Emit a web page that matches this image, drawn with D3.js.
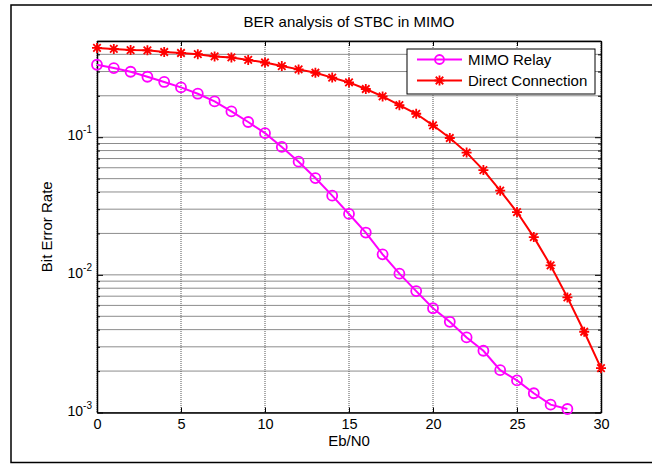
<!DOCTYPE html>
<html>
<head>
<meta charset="utf-8">
<script src="https://cdn.jsdelivr.net/npm/d3@7/dist/d3.min.js"></script>
<style>
  body { margin: 0; background: #fff; }
  svg text { font-family: "Liberation Sans", Arial, Helvetica, sans-serif; fill: #000; }
</style>
</head>
<body>
<div id="chart"></div>
<script>
// Eb/N0 values (dB)
const ebnoRelay = d3.range(0, 29);
const ebnoDirect = d3.range(0, 31);

// BER
const berRelay = [0.336, 0.318, 0.299, 0.275, 0.252, 0.230, 0.207, 0.182, 0.154, 0.129,
    0.107, 0.085, 0.0664, 0.0505, 0.0376, 0.0277, 0.0203, 0.0141, 0.0102, 0.00762,
    0.00572, 0.00456, 0.00351, 0.00281, 0.00203, 0.00171, 0.00138, 0.00114, 0.00106];
const berDirect = [0.445, 0.438, 0.430, 0.428, 0.416, 0.409, 0.401, 0.386, 0.380, 0.364,
    0.349, 0.329, 0.311, 0.294, 0.271, 0.250, 0.224, 0.198, 0.171, 0.148,
    0.122, 0.0987, 0.0773, 0.0577, 0.0409, 0.0286, 0.0188, 0.0117, 0.00686, 0.00386,
    0.00210];

const seriesNames = ["MIMO Relay", "Direct Connection"];
const xTicks = [0, 5, 10, 15, 20, 25, 30];
const yDecades = [-3, -2, -1];

const width = 652, height = 464;
const plot = {left: 97, right: 601, top: 41, bottom: 412.5};

const svg = d3.select("#chart").append("svg")
    .attr("width", width)
    .attr("height", height);

// outer figure frame
svg.append("rect")
    .attr("x", 11).attr("y", 5)
    .attr("width", 650).attr("height", 457.5)
    .attr("fill", "none").attr("stroke", "#000").attr("stroke-width", 1.5);

let x = d3.scaleLinear().domain([0, 30]).range([plot.left, plot.right]);
let y = d3.scaleLog().domain([1e-3, 0.5]).range([plot.bottom, plot.top]);

// major + minor y positions
let yMinor = [];
yDecades.forEach(function(e){
    for (let k = 1; k < 10; k++) {
        let v = k * Math.pow(10, e);
        if (v <= 0.5) yMinor.push(v);
    }
});

let grid = svg.append("g");
grid.selectAll("line.h")
    .data(yMinor)
    .enter().append("line")
    .attr("class", "h")
    .attr("x1", plot.left).attr("x2", plot.right)
    .attr("y1", d => y(d)).attr("y2", d => y(d))
    .attr("stroke", "#8c8c8c").attr("stroke-width", 1);
grid.selectAll("line.v")
    .data(xTicks)
    .enter().append("line")
    .attr("class", "v")
    .attr("x1", d => x(d)).attr("x2", d => x(d))
    .attr("y1", plot.top).attr("y2", plot.bottom)
    .attr("stroke", "#555").attr("stroke-width", 1)
    .attr("stroke-dasharray", "1,1");

// axes, ticks pointing inside
let bottomAxis = d3.axisBottom(x).tickValues(xTicks).tickSizeInner(-5).tickSizeOuter(0).tickPadding(6);
let topAxis = d3.axisTop(x).tickValues(xTicks).tickSizeInner(-5).tickSizeOuter(0).tickFormat("");
let leftAxis = d3.axisLeft(y).tickValues(yMinor).tickSizeOuter(0).tickFormat("");
let rightAxis = d3.axisRight(y).tickValues(yMinor).tickSizeOuter(0).tickFormat("");

function styleAxis(g) {
    g.select(".domain").attr("stroke", "#000").attr("stroke-width", 1.5);
    g.selectAll(".tick line").attr("stroke", "#000").attr("stroke-width", 1);
    g.selectAll(".tick text").style("font-size", "14.5px").attr("fill", "#000");
}

svg.append("g").attr("transform", `translate(0,${plot.bottom})`).call(bottomAxis).call(styleAxis);
svg.append("g").attr("transform", `translate(0,${plot.top})`).call(topAxis).call(styleAxis);
let gl = svg.append("g").attr("transform", `translate(${plot.left},0)`).call(leftAxis).call(styleAxis);
let gr = svg.append("g").attr("transform", `translate(${plot.right},0)`).call(rightAxis).call(styleAxis);

// major ticks longer than minor
gl.selectAll(".tick line").attr("x2", d => Math.abs(Math.log10(d) - Math.round(Math.log10(d))) < 1e-9 ? 6 : 3);
gr.selectAll(".tick line").attr("x2", d => Math.abs(Math.log10(d) - Math.round(Math.log10(d))) < 1e-9 ? -6 : -3);

// decade labels 10^e
let yLab = svg.append("g");
yDecades.forEach(function(e){
    let t = yLab.append("text")
        .attr("x", plot.left - 5)
        .attr("y", y(Math.pow(10, e)) + 3)
        .attr("text-anchor", "end")
        .style("font-size", "14px");
    t.append("tspan").text("10");
    t.append("tspan").attr("dy", -7).style("font-size", "10px").text(e);
});

// title and labels
svg.append("text")
    .attr("x", (plot.left + plot.right) / 2).attr("y", 27)
    .attr("text-anchor", "middle").style("font-size", "15px")
    .text("BER analysis of STBC in MIMO");
svg.append("text")
    .attr("x", (plot.left + plot.right) / 2).attr("y", 446)
    .attr("text-anchor", "middle").style("font-size", "15px")
    .text("Eb/N0");
svg.append("text")
    .attr("transform", `translate(52,${(plot.top + plot.bottom) / 2}) rotate(-90)`)
    .attr("text-anchor", "middle").style("font-size", "15px")
    .text("Bit Error Rate");

let line = d3.line().x(d => x(d[0])).y(d => y(d[1]));

let relayPts = ebnoRelay.map((v, i) => [v, berRelay[i]]);
let directPts = ebnoDirect.map((v, i) => [v, berDirect[i]]);

function drawStar(g, cx, cy, r) {
    let s = r * 0.75;
    g.append("path")
        .attr("d", `M${cx - r},${cy}L${cx + r},${cy}M${cx},${cy - r}L${cx},${cy + r}` +
            `M${cx - s},${cy - s}L${cx + s},${cy + s}M${cx - s},${cy + s}L${cx + s},${cy - s}`)
        .attr("stroke", "#ff0000").attr("stroke-width", 1.8).attr("fill", "none");
}

svg.append("path").datum(directPts)
    .attr("d", line).attr("fill", "none")
    .attr("stroke", "#ff0000").attr("stroke-width", 2);
let stars = svg.append("g");
directPts.forEach(p => drawStar(stars, x(p[0]), y(p[1]), 5));

svg.append("path").datum(relayPts)
    .attr("d", line).attr("fill", "none")
    .attr("stroke", "#ff00ff").attr("stroke-width", 2);
svg.append("g").selectAll("circle")
    .data(relayPts)
    .enter().append("circle")
    .attr("cx", d => x(d[0])).attr("cy", d => y(d[1]))
    .attr("r", 5)
    .attr("fill", "none").attr("stroke", "#ff00ff").attr("stroke-width", 1.8);

// legend
let leg = svg.append("g");
leg.append("rect")
    .attr("x", 407).attr("y", 49).attr("width", 188).attr("height", 45)
    .attr("fill", "#fff").attr("stroke", "#000").attr("stroke-width", 1);
let rowY = [59.5, 80.5];
let colors = ["#ff00ff", "#ff0000"];
seriesNames.forEach(function(name, i){
    leg.append("line")
        .attr("x1", 417).attr("x2", 462)
        .attr("y1", rowY[i]).attr("y2", rowY[i])
        .attr("stroke", colors[i]).attr("stroke-width", 2);
    if (i == 0) {
        leg.append("circle").attr("cx", 439.5).attr("cy", rowY[i]).attr("r", 4.5)
            .attr("fill", "none").attr("stroke", colors[i]).attr("stroke-width", 1.8);
    } else {
        drawStar(leg, 439.5, rowY[i], 5);
    }
    leg.append("text")
        .attr("x", 468).attr("y", rowY[i] + 5.5)
        .style("font-size", "15px")
        .text(name);
});
</script>
</body>
</html>
